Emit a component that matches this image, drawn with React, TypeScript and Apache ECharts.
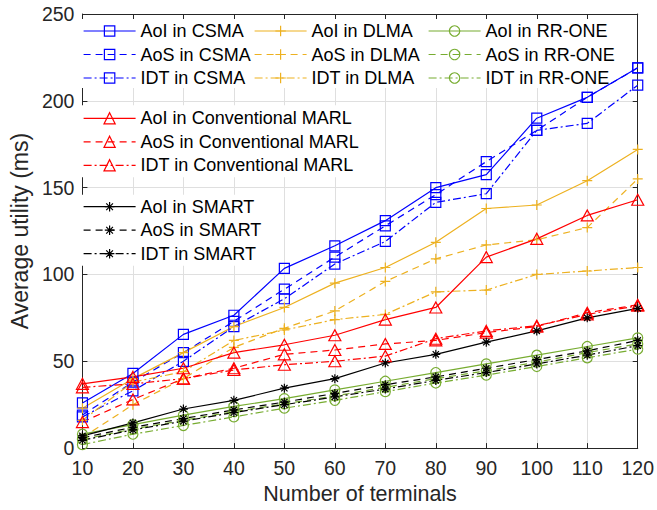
import React, { useEffect, useRef } from "react";
import * as echarts from "echarts";

const terminals = [10, 20, 30, 40, 50, 60, 70, 80, 90, 100, 110, 120];
const xTicks = { min: 10, max: 120, interval: 10 };
const yTicks = { min: 0, max: 250, interval: 50 };

const aoiCSMA = [26, 43, 65.5, 76.5, 103.5, 116.5, 131, 150, 157.5, 190, 202, 219];
const aosCSMA = [19, 38, 55, 73, 91.5, 110, 128, 146, 165, 183, 202, 219];
const idtCSMA = [18, 33, 50, 70, 86, 106, 119, 141.5, 146.5, 183, 187, 209];

const aoiDLMA = [23, 40, 55, 70, 81, 95, 104, 118.5, 138, 140, 154, 172];
const aosDLMA = [6, 25, 40, 58, 69, 79, 96, 109, 117, 120, 127, 155];
const idtDLMA = [16, 38, 44, 62, 68, 74, 77, 90, 91, 100, 102, 104];

const aoiRR = [8, 13.5, 19, 24, 28.5, 33.5, 38.5, 43.5, 48.5, 53.5, 58.5, 63.5];
const aosRR = [5, 11, 16, 21, 25.5, 30, 35, 40, 44.5, 49.5, 55, 60];
const idtRR = [2, 8, 13, 18, 23, 27.5, 32.5, 37.5, 42, 47, 52, 57];

const aoiMARL = [37, 41, 46, 55, 59.5, 65, 74, 81, 110, 120.5, 134, 143];
const aosMARL = [15, 28, 40, 46, 54, 56.5, 60, 62, 66.5, 70, 78, 82.5];
const idtMARL = [35, 37, 40, 45, 48, 50, 53, 63, 67.5, 70.5, 77, 82];

const aoiSMART = [7, 14.5, 22.5, 27.5, 34.5, 40, 49, 54, 61, 67.5, 75, 80.5];
const aosSMART = [6, 12, 17, 22, 26.5, 31.5, 36.5, 41, 46, 51, 56, 62];
const idtSMART = [4.5, 10.5, 15.5, 20.5, 25, 29.5, 34, 39, 43.5, 48.5, 53.5, 59];

const FONT = "'Liberation Sans', Arial, Helvetica, sans-serif";
const AXIS = "#262626";
const GRID = "#dfdfdf";

const BLUE = "#0000ff";
const ORANGE = "#edb120";
const GREEN = "#77ac30";
const RED = "#ff0000";
const BLACK = "#000000";

const SOLID = "solid";
const DASH = [7, 5];
const DASHDOT = [8, 3, 2, 3];

const SQUARE = "rect";
const PLUS = "path://M5 0V10M0 5H10";
const CIRCLE = "circle";
const TRIANGLE = "triangle";
const STAR = "path://M5 0V10M0 5H10M1.5 1.5L8.5 8.5M8.5 1.5L1.5 8.5";

function mk(name: string, values: number[], color: string, dash: any, symbol: string, size: any) {
  return {
    name,
    type: "line",
    data: terminals.map((x, i) => [x, values[i]]),
    symbol,
    symbolSize: size,
    showSymbol: true,
    showAllSymbol: true,
    clip: false,
    lineStyle: { color, width: 1.2, type: dash },
    itemStyle: { color: "rgba(0,0,0,0)", borderColor: color, borderWidth: 1.2 },
    emphasis: { disabled: true },
    xAxisIndex: 0,
    yAxisIndex: 0,
  };
}

function legendBlock(names: string[], left: number, top: number, padding: number[], itemHeight: number) {
  return {
    show: true,
    orient: "vertical",
    left,
    top,
    padding,
    z: 1,
    data: names,
    itemWidth: 52,
    itemHeight,
    itemGap: 3.5,
    backgroundColor: "#ffffff",
    borderWidth: 0,
    selectedMode: false,
    textStyle: { fontSize: 18, color: "#000000", fontFamily: FONT, lineHeight: 20 },
    itemStyle: { borderWidth: 1.2 },
    lineStyle: { width: 1.2 },
  };
}

export default function App() {
  const ref = useRef<HTMLDivElement>(null);

  useEffect(() => {
    if (!ref.current) return;
    const chart = echarts.init(ref.current, undefined, { renderer: "svg" });

    const series = [
      mk("AoI in CSMA", aoiCSMA, BLUE, SOLID, SQUARE, 10),
      mk("AoS in CSMA", aosCSMA, BLUE, DASH, SQUARE, 10),
      mk("IDT in CSMA", idtCSMA, BLUE, DASHDOT, SQUARE, 10),
      mk("AoI in DLMA", aoiDLMA, ORANGE, SOLID, PLUS, 10),
      mk("AoS in DLMA", aosDLMA, ORANGE, DASH, PLUS, 10),
      mk("IDT in DLMA", idtDLMA, ORANGE, DASHDOT, PLUS, 10),
      mk("AoI in RR-ONE", aoiRR, GREEN, SOLID, CIRCLE, 10),
      mk("AoS in RR-ONE", aosRR, GREEN, DASH, CIRCLE, 10),
      mk("IDT in RR-ONE", idtRR, GREEN, DASHDOT, CIRCLE, 10),
      mk("AoI in Conventional MARL", aoiMARL, RED, SOLID, TRIANGLE, [12, 11]),
      mk("AoS in Conventional MARL", aosMARL, RED, DASH, TRIANGLE, [12, 11]),
      mk("IDT in Conventional MARL", idtMARL, RED, DASHDOT, TRIANGLE, [12, 11]),
      mk("AoI in SMART", aoiSMART, BLACK, SOLID, STAR, 9),
      mk("AoS in SMART", aosSMART, BLACK, DASH, STAR, 9),
      mk("IDT in SMART", idtSMART, BLACK, DASHDOT, STAR, 9),
    ];

    const axisLine = { show: true, onZero: false, lineStyle: { color: AXIS, width: 1 } };
    const axisTick = { show: true, inside: true, length: 5, lineStyle: { color: AXIS, width: 1 } };

    chart.setOption({
      animation: false,
      backgroundColor: "#ffffff",
      grid: { left: 78, right: 17, top: 14, bottom: 58, containLabel: false },
      legend: [
        legendBlock(["AoI in CSMA", "AoS in CSMA", "IDT in CSMA"], 75, 19, [2, 0, 0, 8], 13),
        legendBlock(["AoI in DLMA", "AoS in DLMA", "IDT in DLMA"], 250, 19, [2, 3, 0, 4], 13),
        legendBlock(["AoI in RR-ONE", "AoS in RR-ONE", "IDT in RR-ONE"], 422, 19, [2, 0, 0, 6], 13),
        legendBlock(
          ["AoI in Conventional MARL", "AoS in Conventional MARL", "IDT in Conventional MARL"],
          75, 105.3, [3, 6, 2, 8], 14
        ),
        legendBlock(["AoI in SMART", "AoS in SMART", "IDT in SMART"], 75, 194.7, [2, 6, 2, 8], 12),
      ],
      xAxis: [
        {
          type: "value",
          position: "bottom",
          ...xTicks,
          axisLine,
          axisTick,
          axisLabel: { color: AXIS, fontSize: 19.5, fontFamily: FONT, margin: 10 },
          splitLine: { show: true, lineStyle: { color: GRID, width: 1 } },
          name: "Number of terminals",
          nameLocation: "middle",
          nameGap: 34,
          nameTextStyle: { color: AXIS, fontSize: 21.5, fontFamily: FONT },
        },
        {
          type: "value",
          position: "top",
          ...xTicks,
          axisLine,
          axisTick,
          axisLabel: { show: false },
          splitLine: { show: false },
        },
      ],
      yAxis: [
        {
          type: "value",
          position: "left",
          ...yTicks,
          axisLine,
          axisTick,
          axisLabel: { color: AXIS, fontSize: 19.5, fontFamily: FONT, margin: 8 },
          splitLine: { show: true, lineStyle: { color: GRID, width: 1 } },
          name: "Average utility (ms)",
          nameLocation: "middle",
          nameGap: 44,
          nameTextStyle: { color: AXIS, fontSize: 23, fontFamily: FONT },
        },
        {
          type: "value",
          position: "right",
          ...yTicks,
          axisLine,
          axisTick,
          axisLabel: { show: false },
          splitLine: { show: false },
        },
      ],
      series,
    });

    return () => {
      chart.dispose();
    };
  }, []);

  return (
    <div
      ref={ref}
      style={{ position: "fixed", left: 0, top: 0, width: 657, height: 510, background: "#fff" }}
    />
  );
}
